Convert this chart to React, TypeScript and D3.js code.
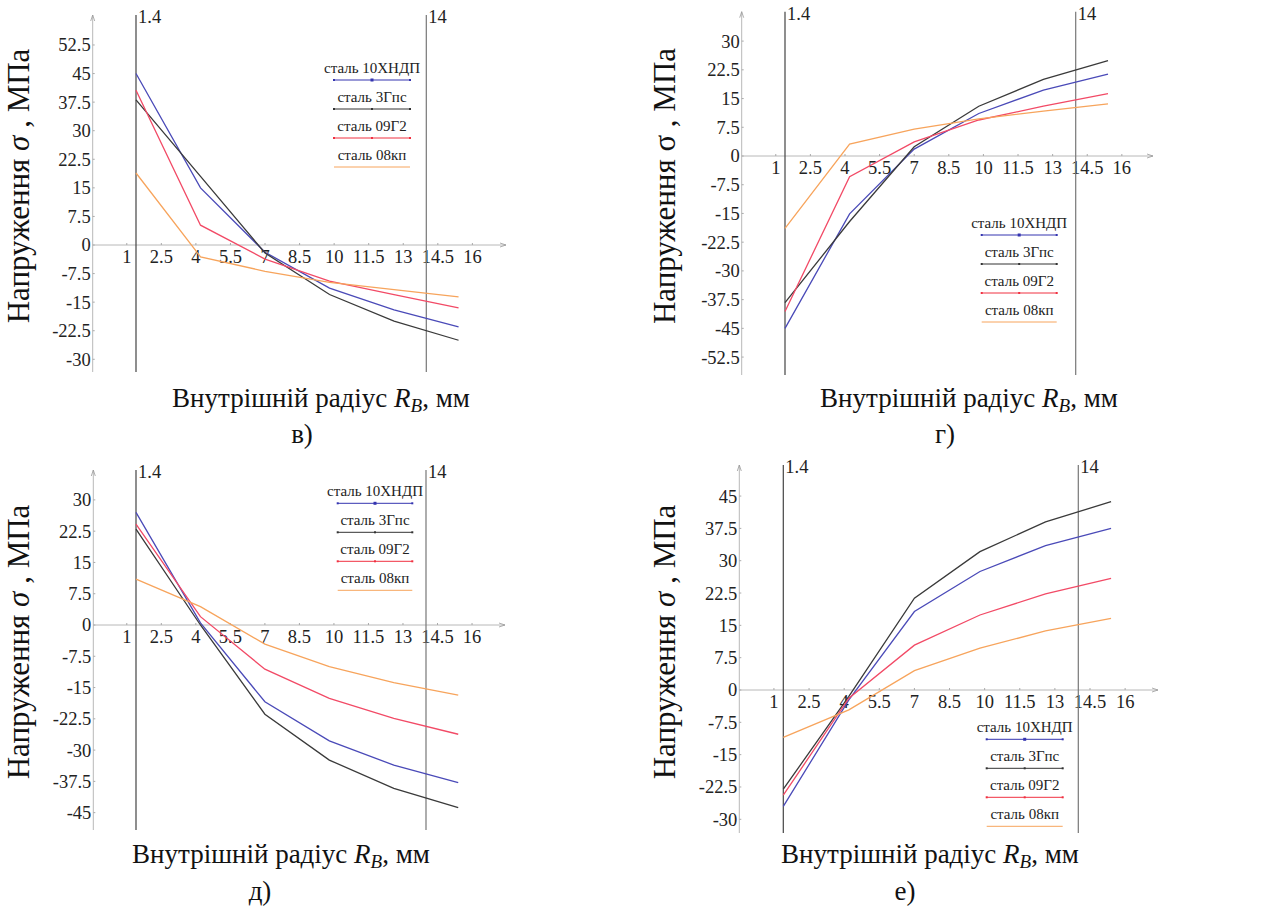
import React from "react";
import * as d3 from "d3";

// ---------- DATA ----------
const radii = [1.4, 4.2, 7, 9.8, 12.6, 15.4];
const xTickValues = [1, 2.5, 4, 5.5, 7, 8.5, 10, 11.5, 13, 14.5, 16];
const boundaryLines = [1.4, 14];
const steelNames = ["сталь 10ХНДП", "сталь 3Гпс", "сталь 09Г2", "сталь 08кп"];

const ticksV = [52.5, 45, 37.5, 30, 22.5, 15, 7.5, 0, -7.5, -15, -22.5, -30];
const ticksG = [30, 22.5, 15, 7.5, 0, -7.5, -15, -22.5, -30, -37.5, -45, -52.5];
const ticksD = [30, 22.5, 15, 7.5, 0, -7.5, -15, -22.5, -30, -37.5, -45];
const ticksE = [45, 37.5, 30, 22.5, 15, 7.5, 0, -7.5, -15, -22.5, -30];

// panel в)
const v10 = [45, 15, -1.9, -11.3, -17, -21.5];
const v3 = [38.1, 18, -2.1, -13, -20, -25];
const v09 = [40.6, 5.2, -3.7, -9.5, -13, -16.5];
const v08 = [18.9, -3.1, -6.9, -9.8, -11.7, -13.6];
// panel г)
const g10 = [-45, -15.1, 1.8, 11.1, 17.2, 21.4];
const g3 = [-38.3, -17.1, 2.4, 13, 20, 24.9];
const g09 = [-40.6, -5.4, 3.7, 9.4, 13, 16.3];
const g08 = [-18.9, 3.1, 7, 9.7, 11.7, 13.6];
// panel д)
const d10 = [27, 0.5, -18.4, -27.8, -33.6, -37.8];
const d3s = [23, 0, -21.4, -32.4, -39.2, -43.8];
const d09 = [24.2, 2, -10.6, -17.6, -22.4, -26.2];
const d08 = [11, 4.4, -4.6, -10, -13.8, -16.8];
// panel е)
const e10 = [-27, -2.3, 18.2, 27.5, 33.5, 37.5];
const e3 = [-23, -1.5, 21.3, 32.1, 39, 43.7];
const e09 = [-24.4, -1.9, 10.4, 17.4, 22.3, 25.9];
const e08 = [-11, -4.6, 4.5, 9.7, 13.7, 16.6];

// ---------- STYLE / LAYOUT ----------
const lineColors = ["#4a4ab8", "#3a3a3a", "#f24a66", "#f7a45c"];
const legendColors = ["#3434b0", "#333333", "#f03040", "#f7a45c"];
const FONT = '"Liberation Serif"';
const fs = (size: number, extra: React.CSSProperties = {}): React.CSSProperties => ({
  fontFamily: FONT,
  fontSize: size + "px",
  ...extra,
});

type Panel = {
  letter: string;
  series: number[][];
  ticks: number[];
  yAxisX: number;
  xAxisEnd: number;
  x14px: [number, number];
  zeroY: number;
  ky: number;
  top: number;
  bottom: number;
  legendX: [number, number];
  legendY: number;
  yLabel: [number, number];
  xLabel: [number, number];
  letterPos: [number, number];
  sigmaItalic: boolean;
};

const panels: Panel[] = [
  {
    letter: "в)", series: [v10, v3, v09, v08], ticks: ticksV,
    yAxisX: 92.7, xAxisEnd: 506, x14px: [136, 426.3], zeroY: 245, ky: 3.81,
    top: 15, bottom: 372, legendX: [334, 410], legendY: 80,
    yLabel: [18, 186], xLabel: [321, 407], letterPos: [302, 443], sigmaItalic: true,
  },
  {
    letter: "г)", series: [g10, g3, g09, g08], ticks: ticksG,
    yAxisX: 741.7, xAxisEnd: 1153, x14px: [785, 1075.7], zeroY: 156, ky: 3.83,
    top: 11.7, bottom: 375, legendX: [981.7, 1056.7], legendY: 235,
    yLabel: [664, 186], xLabel: [969, 407], letterPos: [945, 443], sigmaItalic: false,
  },
  {
    letter: "д)", series: [d10, d3s, d09, d08], ticks: ticksD,
    yAxisX: 93.3, xAxisEnd: 505, x14px: [136, 426], zeroY: 625, ky: 4.17,
    top: 470, bottom: 830, legendX: [337.7, 412.3], legendY: 503.3,
    yLabel: [18, 642], xLabel: [281, 863], letterPos: [260, 900], sigmaItalic: true,
  },
  {
    letter: "е)", series: [e10, e3, e09, e08], ticks: ticksE,
    yAxisX: 739.3, xAxisEnd: 1158, x14px: [783.3, 1078.3], zeroY: 690, ky: 4.31,
    top: 465, bottom: 833, legendX: [986.7, 1062.7], legendY: 739.3,
    yLabel: [664, 642], xLabel: [930, 863], letterPos: [905, 900], sigmaItalic: true,
  },
];

const axisColor = "#b8b8b8";

function PanelView({ p }: { p: Panel }) {
  const x = d3.scaleLinear().domain([1.4, 14]).range(p.x14px);
  const y = d3.scaleLinear().domain([0, 10]).range([p.zeroY, p.zeroY - 10 * p.ky]);
  const line = d3
    .line<number>()
    .x((_, i) => x(radii[i]))
    .y((v) => y(v));
  const legendGap = 29;
  const lm = (p.legendX[0] + p.legendX[1]) / 2;
  return (
    <g>
      {/* axes */}
      <line x1={p.yAxisX} x2={p.yAxisX} y1={p.top} y2={p.bottom} stroke={axisColor} strokeWidth={1} />
      <path d={`M${p.yAxisX - 2},${p.top + 6} L${p.yAxisX},${p.top} L${p.yAxisX + 2},${p.top + 6}`} fill="none" stroke="#999" strokeWidth={0.8} />
      <line x1={p.yAxisX} x2={p.xAxisEnd} y1={y(0)} y2={y(0)} stroke={axisColor} strokeWidth={1} />
      <path d={`M${p.xAxisEnd - 6},${y(0) - 2} L${p.xAxisEnd},${y(0)} L${p.xAxisEnd - 6},${y(0) + 2}`} fill="none" stroke="#999" strokeWidth={0.8} />
      {/* y ticks */}
      {p.ticks.map((t) => (
        <g key={"y" + t}>
          <line x1={p.yAxisX} x2={p.yAxisX + 2} y1={y(t)} y2={y(t)} stroke="#aaa" />
          <text x={p.yAxisX - 2} y={y(t)} dy="0.35em" textAnchor="end" style={fs(18.5)} fill="#222">
            {t}
          </text>
        </g>
      ))}
      {/* x ticks */}
      {xTickValues.map((t) => (
        <g key={"x" + t}>
          <line x1={x(t)} x2={x(t)} y1={y(0)} y2={y(0) - 2} stroke="#aaa" />
          <text x={x(t)} y={y(0) + 18} textAnchor="middle" style={fs(18.5)} fill="#222">
            {t}
          </text>
        </g>
      ))}
      {/* boundary lines */}
      {boundaryLines.map((b, i) => (
        <g key={"b" + b}>
          <line x1={x(b)} x2={x(b)} y1={p.top} y2={p.bottom} stroke={i === 0 ? "#444" : "#777"} strokeWidth={1.2} />
          <text x={x(b) + 2} y={p.top + 8} style={fs(18.5)} fill="#222">
            {b}
          </text>
        </g>
      ))}
      {/* series */}
      {p.series.map((s, i) => (
        <path key={"s" + i} d={line(s) || ""} fill="none" stroke={lineColors[i]} strokeWidth={1.3} />
      ))}
      {/* legend */}
      {steelNames.map((n, i) => {
        const ly = p.legendY + i * legendGap;
        return (
          <g key={"l" + i}>
            <text x={lm} y={ly - 7} textAnchor="middle" style={fs(15)} fill="#222">
              {n}
            </text>
            <line x1={p.legendX[0]} x2={p.legendX[1]} y1={ly} y2={ly} stroke={legendColors[i]} strokeWidth={1} />
            {i < 3 && (
              <>
                <rect x={p.legendX[0] - 1} y={ly - 1} width={2} height={2} fill={legendColors[i]} />
                <rect x={p.legendX[1] - 1} y={ly - 1} width={2} height={2} fill={legendColors[i]} />
                <rect x={lm - (i === 0 ? 1.5 : 1)} y={ly - (i === 0 ? 1.5 : 1)} width={i === 0 ? 3 : 2} height={i === 0 ? 3 : 2} fill={legendColors[i]} />
              </>
            )}
          </g>
        );
      })}
      {/* y label */}
      <text
        transform={`translate(${p.yLabel[0]},${p.yLabel[1]}) rotate(-90)`}
        dy="0.35em"
        textAnchor="middle"
        style={fs(31)}
        fill="#111"
      >
        Напруження <tspan style={{ fontStyle: p.sigmaItalic ? "italic" : "normal" }}>σ</tspan> , МПа
      </text>
      {/* x label */}
      <text x={p.xLabel[0]} y={p.xLabel[1]} textAnchor="middle" style={fs(27)} fill="#111">
        Внутрішній радіус <tspan style={{ fontStyle: "italic" }}>R</tspan>
        <tspan style={{ fontStyle: "italic", fontSize: "19px" }} dy={5}>B</tspan>
        <tspan dy={-5}>, мм</tspan>
      </text>
      <text x={p.letterPos[0]} y={p.letterPos[1]} textAnchor="middle" style={fs(27)} fill="#111">
        {p.letter}
      </text>
    </g>
  );
}

export default function App() {
  return (
    <svg
      width={1266}
      height={909}
      style={{ position: "absolute", left: 0, top: 0, background: "#fff" }}
    >
      <rect width={1266} height={909} fill="#fff" />
      {panels.map((p) => (
        <PanelView key={p.letter} p={p} />
      ))}
    </svg>
  );
}
